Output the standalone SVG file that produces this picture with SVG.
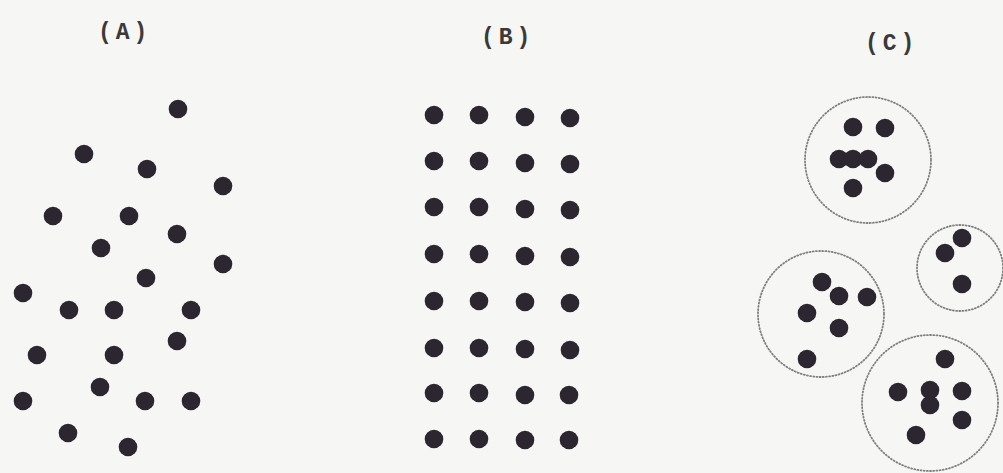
<svg xmlns="http://www.w3.org/2000/svg" width="1003" height="473" viewBox="0 0 1003 473">
<style>
.bg{fill:#f6f6f4}
.d{fill:#2b2630}
.lbl{font-family:"Liberation Mono","DejaVu Sans Mono",monospace;font-size:23px;font-weight:bold;fill:#3a3a3a;letter-spacing:4px}
.ring{fill:none;stroke:#7f7f7f;stroke-width:1.8;stroke-dasharray:1 2.2;stroke-linecap:round}
</style>
<defs><circle id="p" r="9.3" class="d"/></defs>
<rect class="bg" width="1003" height="473"/>
<g id="labels">
<text class="lbl" x="98" y="39">(A)</text>
<text class="lbl" x="481" y="44">(B)</text>
<text class="lbl" x="865" y="50">(C)</text>
</g>
<g id="panelA">
<use href="#p" x="178" y="109"/><use href="#p" x="84" y="154"/><use href="#p" x="147" y="169"/>
<use href="#p" x="223" y="186"/><use href="#p" x="53" y="216"/><use href="#p" x="129" y="216"/>
<use href="#p" x="177" y="234"/><use href="#p" x="101" y="248"/><use href="#p" x="223" y="264"/>
<use href="#p" x="146" y="278"/><use href="#p" x="23" y="293"/><use href="#p" x="69" y="310"/>
<use href="#p" x="114" y="310"/><use href="#p" x="191" y="310"/><use href="#p" x="177" y="341"/>
<use href="#p" x="37" y="355"/><use href="#p" x="114" y="355"/><use href="#p" x="100" y="387"/>
<use href="#p" x="23" y="401"/><use href="#p" x="145" y="401"/><use href="#p" x="191" y="401"/>
<use href="#p" x="68" y="433"/><use href="#p" x="128" y="447"/>
</g>
<g id="panelB">
<use href="#p" x="434" y="115"/><use href="#p" x="479" y="115"/><use href="#p" x="525" y="117"/><use href="#p" x="570" y="118"/>
<use href="#p" x="434" y="161"/><use href="#p" x="479" y="161"/><use href="#p" x="525" y="163"/><use href="#p" x="570" y="164"/>
<use href="#p" x="434" y="207"/><use href="#p" x="479" y="207"/><use href="#p" x="525" y="209"/><use href="#p" x="570" y="210"/>
<use href="#p" x="434" y="254"/><use href="#p" x="479" y="254"/><use href="#p" x="525" y="256"/><use href="#p" x="570" y="257"/>
<use href="#p" x="434" y="301"/><use href="#p" x="479" y="301"/><use href="#p" x="525" y="302"/><use href="#p" x="570" y="303"/>
<use href="#p" x="434" y="348"/><use href="#p" x="479" y="348"/><use href="#p" x="525" y="349"/><use href="#p" x="570" y="350"/>
<use href="#p" x="434" y="393"/><use href="#p" x="479" y="393"/><use href="#p" x="525" y="395"/><use href="#p" x="569" y="395"/>
<use href="#p" x="434" y="439"/><use href="#p" x="479" y="439"/><use href="#p" x="525" y="440"/><use href="#p" x="569" y="440"/>
</g>
<g id="cluster1">
<circle class="ring" cx="868" cy="160" r="63"/>
<use href="#p" x="853" y="127"/><use href="#p" x="885" y="128"/>
<use href="#p" x="839" y="159"/><use href="#p" x="853" y="159"/><use href="#p" x="868" y="159"/>
<use href="#p" x="885" y="173"/><use href="#p" x="853" y="188"/>
</g>
<g id="cluster2">
<circle class="ring" cx="960" cy="268" r="43"/>
<use href="#p" x="962" y="238"/><use href="#p" x="945" y="253"/><use href="#p" x="962" y="284"/>
</g>
<g id="cluster3">
<circle class="ring" cx="821" cy="314" r="63"/>
<use href="#p" x="822" y="282"/><use href="#p" x="839" y="296"/><use href="#p" x="867" y="297"/>
<use href="#p" x="807" y="313"/><use href="#p" x="839" y="328"/><use href="#p" x="807" y="359"/>
</g>
<g id="cluster4">
<circle class="ring" cx="930" cy="403" r="68"/>
<use href="#p" x="945" y="359"/><use href="#p" x="898" y="392"/><use href="#p" x="930" y="390"/>
<use href="#p" x="930" y="405"/><use href="#p" x="962" y="391"/><use href="#p" x="962" y="420"/>
<use href="#p" x="916" y="435"/>
</g>
</svg>
